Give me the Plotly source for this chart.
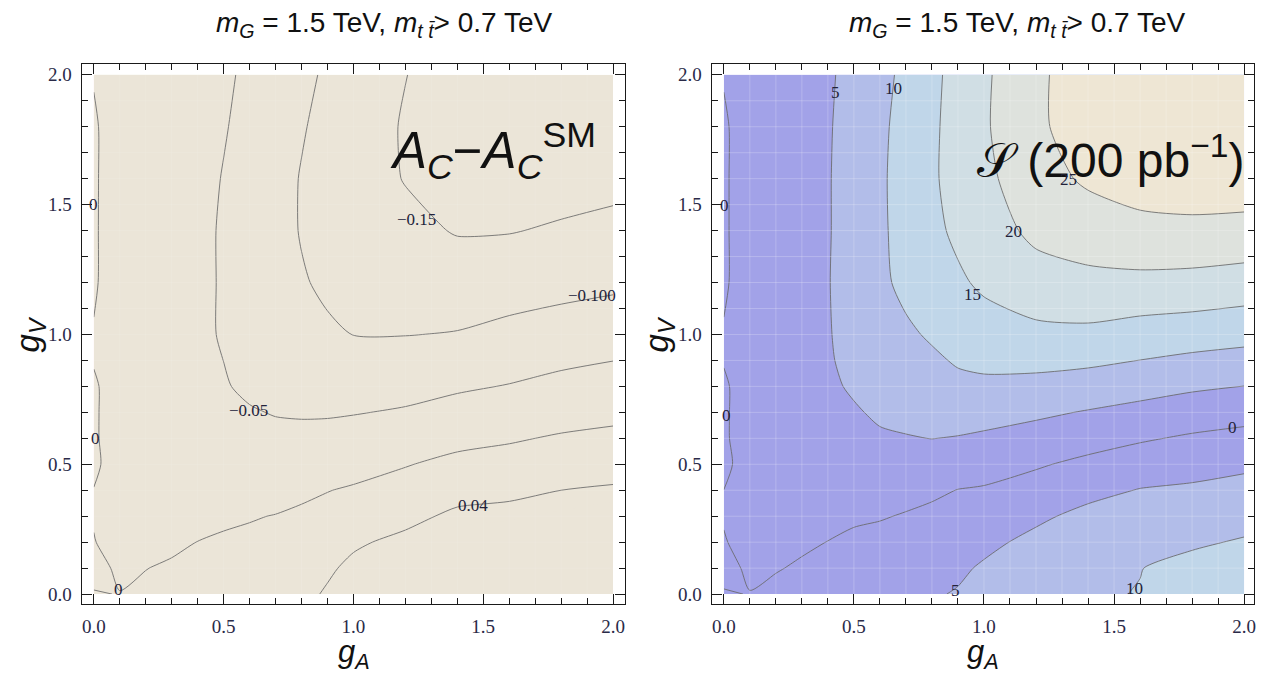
import numpy as np
import plotly.graph_objects as go

# ---------------- data ----------------
G_A = [0.0, 0.1, 0.2, 0.3, 0.4, 0.5, 0.6, 0.7, 0.8, 0.9, 1.0, 1.2, 1.4, 1.6, 1.8, 2.0]
G_V = [0.0, 0.1, 0.2, 0.3, 0.4, 0.5, 0.6, 0.7, 0.8, 0.9, 1.0, 1.2, 1.4, 1.6, 1.8, 2.0]

# left panel: A_C - A_C^SM   (rows: g_V, columns: g_A)
AC_DIFF = [
    [-0.0007, 0.0003, 0.003, 0.006, 0.010, 0.014, 0.019, 0.026, 0.033, 0.043, 0.055, 0.070, 0.080, 0.085, 0.090, 0.095],
    [0.0037, -0.002, -0.0003, 0.002, 0.005, 0.009, 0.014, 0.020, 0.027, 0.036, 0.046, 0.058, 0.068, 0.074, 0.080, 0.085],
    [0.0003, -0.003, -0.004, -0.003, 0.0002, 0.003, 0.006, 0.010, 0.015, 0.021, 0.036, 0.047, 0.056, 0.060, 0.066, 0.070],
    [-0.0005, -0.0035, -0.006, -0.006, -0.005, -0.004, -0.002, 0.001, 0.006, 0.011, 0.019, 0.032, 0.046, 0.048, 0.053, 0.058],
    [-0.0002, -0.004, -0.008, -0.010, -0.011, -0.012, -0.012, -0.012, -0.007, -0.001, 0.004, 0.015, 0.029, 0.034, 0.040, 0.044],
    [0.0015, -0.004, -0.009, -0.014, -0.018, -0.021, -0.024, -0.026, -0.023, -0.019, -0.014, -0.002, 0.010, 0.015, 0.022, 0.026],
    [0.001, -0.004, -0.011, -0.018, -0.025, -0.031, -0.036, -0.040, -0.039, -0.037, -0.033, -0.024, -0.011, -0.004, 0.004, 0.009],
    [0.001, -0.004, -0.012, -0.021, -0.031, -0.040, -0.047, -0.052, -0.054, -0.054, -0.052, -0.046, -0.034, -0.026, -0.016, -0.010],
    [0.001, -0.004, -0.013, -0.024, -0.035, -0.047, -0.057, -0.064, -0.067, -0.067, -0.068, -0.064, -0.056, -0.048, -0.0375, -0.030],
    [-0.0005, -0.004, -0.014, -0.025, -0.038, -0.0502, -0.062, -0.071, -0.077, -0.080, -0.084, -0.082, -0.076, -0.068, -0.058, -0.0505],
    [-0.0005, -0.004, -0.014, -0.025, -0.040, -0.054, -0.068, -0.080, -0.089, -0.095, -0.1005, -0.101, -0.098, -0.088, -0.079, -0.071],
    [0.001, -0.005, -0.014, -0.025, -0.040, -0.054, -0.069, -0.083, -0.097, -0.106, -0.116, -0.121, -0.125, -0.121, -0.115, -0.109],
    [0.001, -0.0047, -0.013, -0.024, -0.038, -0.055, -0.071, -0.087, -0.102, -0.111, -0.120, -0.138, -0.153, -0.152, -0.145, -0.138],
    [0.001, -0.0045, -0.013, -0.023, -0.036, -0.052, -0.069, -0.086, -0.102, -0.117, -0.128, -0.152, -0.165, -0.172, -0.168, -0.163],
    [0.001, -0.0045, -0.012, -0.022, -0.034, -0.047, -0.063, -0.080, -0.097, -0.111, -0.126, -0.154, -0.170, -0.178, -0.182, -0.180],
    [-0.0005, -0.004, -0.011, -0.020, -0.031, -0.043, -0.058, -0.074, -0.090, -0.106, -0.120, -0.149, -0.172, -0.188, -0.190, -0.190],
]

# right panel: signed significance S (200 pb^-1)  (rows: g_V, columns: g_A)
SIG = [
    [0.14, -0.05, -0.8, -1.5, -2.2, -2.8, -3.4, -4.0, -4.6, -5.3, -5.8, -7.3, -9.5, -10.15, -12.5, -13.5],
    [-0.56, 0.3, 0.2, -0.4, -1.2, -2.0, -2.5, -3.1, -3.6, -4.3, -5.5, -7.0, -8.7, -9.9, -11.3, -12.3],
    [-0.09, 0.5, 0.8, 0.5, -0.05, -0.8, -1.3, -1.9, -2.4, -2.7, -4.0, -6.1, -7.9, -8.5, -9.4, -10.4],
    [0.1, 0.7, 1.2, 1.2, 0.9, 0.6, 0.3, -0.3, -1.0, -1.4, -2.2, -4.2, -6.2, -7.0, -7.6, -8.4],
    [0.01, 0.8, 1.5, 1.8, 1.7, 1.6, 1.7, 1.4, 0.8, -0.1, -0.4, -1.9, -3.7, -5.2, -5.7, -6.4],
    [-0.45, 0.9, 1.8, 2.3, 2.5, 2.6, 3.1, 3.1, 2.9, 2.4, 1.8, 0.5, -1.1, -2.4, -3.3, -4.2],
    [-0.25, 0.9, 1.9, 2.7, 3.2, 3.6, 4.5, 4.8, 5.05, 4.8, 4.3, 3.2, 1.9, 0.5, -0.6, -1.4],
    [-0.25, 0.9, 2.0, 3.0, 3.8, 4.6, 5.6, 6.0, 6.4, 6.8, 6.7, 5.8, 4.7, 3.6, 2.5, 1.7],
    [-0.25, 0.9, 2.1, 3.2, 4.3, 5.5, 6.6, 7.1, 7.8, 8.8, 9.0, 8.6, 7.8, 6.8, 5.7, 4.95],
    [0.1, 0.9, 2.1, 3.3, 4.6, 6.1, 7.3, 8.1, 9.2, 10.5, 11.1, 11.3, 10.9, 9.95, 9.0, 8.3],
    [0.1, 0.9, 2.0, 3.3, 4.7, 6.6, 8.0, 9.2, 10.6, 11.8, 12.9, 13.9, 13.9, 12.9, 12.3, 11.6],
    [-0.2, 0.8, 2.0, 3.3, 4.8, 7.0, 9.0, 11.2, 13.0, 14.3, 15.8, 17.8, 18.9, 18.8, 18.5, 17.8],
    [-0.2, 0.8, 2.0, 3.3, 4.7, 7.0, 9.3, 11.5, 13.9, 15.9, 17.6, 21.2, 22.2, 23.7, 23.9, 23.6],
    [-0.2, 0.8, 2.0, 3.3, 4.7, 7.0, 9.3, 11.8, 14.4, 16.6, 18.9, 22.9, 25.8, 27.0, 27.5, 27.5],
    [-0.2, 0.8, 1.9, 3.2, 4.6, 6.8, 9.1, 11.6, 14.2, 16.8, 19.4, 24.2, 27.2, 27.7, 28.2, 28.2],
    [0.1, 0.7, 1.8, 3.0, 4.4, 6.4, 8.6, 11.1, 13.9, 16.6, 19.2, 24.3, 27.0, 27.9, 28.6, 29.0],
]

# contour labels as printed on the reference
LEFT_LABELS = [("0", 0.0, 1.50), ("0", 0.005, 0.60), ("0", 0.097, 0.017), ("\u22120.05", 0.594, 0.709),
               ("\u22120.15", 1.244, 1.442), ("\u22120.100", 1.92, 1.15), ("0.04", 1.462, 0.34)]
RIGHT_LABELS = [("0", 0.003, 1.497), ("0", 0.01, 0.688), ("5", 0.429, 1.932), ("10", 0.653, 1.949),
                ("25", 1.324, 1.596), ("20", 1.113, 1.397), ("15", 0.956, 1.154), ("0", 1.954, 0.641),
                ("5", 0.89, 0.012), ("10", 1.58, 0.022)]

TICKS = [0.0, 0.5, 1.0, 1.5, 2.0]

# ---------------- styling ----------------
W, H = 1261, 676
BEIGE_LEFT = "#EBE5D8"
BANDS = ["#A2A2E8", "#A2A2E8", "#B2BDE9", "#C0D6E9", "#D0DEE4", "#DEE2DD", "#EEE6D4"]
LINE_COLOR = "rgba(105,105,105,0.85)"
SMOOTH = 0.7


def fx(p):
    return p / W


def fy(p):
    return 1 - p / H


fig = go.Figure()

# ---- left panel ----
fig.add_trace(go.Contour(
    x=G_A, y=G_V, z=AC_DIFF, xaxis="x", yaxis="y",
    colorscale=[[0, BEIGE_LEFT], [1, BEIGE_LEFT]], showscale=False,
    contours=dict(coloring="fill", showlines=False, start=-0.15, end=0.05, size=0.05),
    line=dict(width=0, smoothing=SMOOTH), hoverinfo="skip"))
fig.add_trace(go.Contour(
    x=G_A, y=G_V, z=AC_DIFF, xaxis="x", yaxis="y", showscale=False,
    contours=dict(coloring="none", start=-0.15, end=0.0, size=0.05),
    line=dict(color=LINE_COLOR, width=1, smoothing=SMOOTH), hoverinfo="skip"))
fig.add_trace(go.Contour(
    x=G_A, y=G_V, z=AC_DIFF, xaxis="x", yaxis="y", showscale=False,
    contours=dict(coloring="none", start=0.04, end=0.04, size=1),
    line=dict(color=LINE_COLOR, width=1, smoothing=SMOOTH), hoverinfo="skip"))

# ---- right panel ----
S_ABS = np.abs(np.array(SIG))
n = len(BANDS) - 1
fig.add_trace(go.Contour(
    x=G_A, y=G_V, z=S_ABS, xaxis="x2", yaxis="y2",
    colorscale=[[i / n, c] for i, c in enumerate(BANDS)], showscale=False,
    contours=dict(coloring="fill", showlines=False, start=0, end=25, size=5),
    line=dict(width=0, smoothing=SMOOTH), hoverinfo="skip"))
fig.add_trace(go.Contour(
    x=G_A, y=G_V, z=SIG, xaxis="x2", yaxis="y2", showscale=False,
    contours=dict(coloring="none", start=-10, end=25, size=5),
    line=dict(color=LINE_COLOR, width=1, smoothing=SMOOTH), hoverinfo="skip"))

# faint mesh seams of the original rendering
seam = [round(0.1 * i, 1) for i in range(1, 20)]
for xa, ya, alpha in (("x", "y", 0.10), ("x2", "y2", 0.22)):
    sx, sy = [], []
    for s in seam:
        sx += [s, s, None, 0, 2, None]
        sy += [0, 2, None, s, s, None]
    fig.add_trace(go.Scatter(x=sx, y=sy, mode="lines", xaxis=xa, yaxis=ya,
                             line=dict(color=f"rgba(255,255,255,{alpha})", width=1),
                             hoverinfo="skip", showlegend=False))


def axis(domain, rng, anchor):
    return dict(
        domain=domain, range=rng, anchor=anchor,
        showline=True, linecolor="#1a1a1a", linewidth=1.4, mirror="allticks",
        ticks="inside", ticklen=10, tickwidth=1.2, tickcolor="#1a1a1a",
        tickmode="array", tickvals=TICKS, ticktext=[f"{t:.1f}" for t in TICKS],
        minor=dict(ticks="inside", dtick=0.1, tick0=0, ticklen=6, tickwidth=1,
                   tickcolor="#1a1a1a", showgrid=False),
        showgrid=False, zeroline=False, ticklabelstandoff=5,
        ticklabeloverflow="allow",
        tickfont=dict(family="Liberation Serif", size=19, color="#2a2a48"),
        fixedrange=True)


YDOM = [(H - 605) / H, (H - 64) / H]
YR = [-0.0385, 2.042]
fig.update_layout(
    width=W, height=H, margin=dict(l=0, r=0, t=0, b=0),
    paper_bgcolor="white", plot_bgcolor="white", showlegend=False,
    xaxis=axis([82 / W, 626 / W], [-0.046, 2.046], "y"),
    yaxis=axis(YDOM, YR, "x"),
    xaxis2=axis([713 / W, 1256 / W], [-0.046, 2.038], "y2"),
    yaxis2=axis(YDOM, YR, "x2"),
)

ann = []
title = "<i>m</i><sub><i>G</i></sub> = 1.5 TeV, <i>m</i><sub><i>t t\u0304</i></sub>> 0.7 TeV"
for cx in (385, 1019):
    ann.append(dict(text=title, x=fx(cx), y=fy(25), xref="paper", yref="paper",
                    showarrow=False, xanchor="center", yanchor="middle",
                    font=dict(family="Liberation Sans", size=28, color="#111")))
for cx in (355, 985):
    ann.append(dict(text="<i>g</i><sub><i>A</i></sub>", x=fx(cx), y=fy(655), xref="paper", yref="paper",
                    showarrow=False, xanchor="center", yanchor="middle",
                    font=dict(family="Liberation Sans", size=31, color="#111")))
for cx in (30, 660):
    ann.append(dict(text="<i>g</i><sub><i>V</i></sub>", x=fx(cx), y=fy(335), xref="paper", yref="paper",
                    showarrow=False, xanchor="center", yanchor="middle", textangle=-90,
                    font=dict(family="Liberation Sans", size=33, color="#111")))

ann.append(dict(text="<i>A</i><sub><i>C</i></sub>\u2212<i>A</i><sub><i>C</i></sub><sup>SM</sup>",
                x=fx(389), y=fy(151), xref="paper", yref="paper", showarrow=False,
                xanchor="left", yanchor="middle",
                font=dict(family="Liberation Sans", size=51, color="#111")))
ann.append(dict(text="\U0001D4AE (200 pb<sup>\u22121</sup>)",
                x=fx(977), y=fy(157), xref="paper", yref="paper", showarrow=False,
                xanchor="left", yanchor="middle",
                font=dict(family="Liberation Sans", size=48, color="#111")))

for txt, gx, gy in LEFT_LABELS:
    ann.append(dict(text=txt, x=gx, y=gy, xref="x", yref="y", showarrow=False,
                    font=dict(family="Liberation Serif", size=17, color="#22223a")))
for txt, gx, gy in RIGHT_LABELS:
    ann.append(dict(text=txt, x=gx, y=gy, xref="x2", yref="y2", showarrow=False,
                    font=dict(family="Liberation Serif", size=17, color="#22223a")))

fig.update_layout(annotations=ann)
fig.write_html(
    "out.html",
    config={"displayModeBar": False},
    post_script="document.body.style.margin='0';document.body.style.overflow='hidden';",
)
